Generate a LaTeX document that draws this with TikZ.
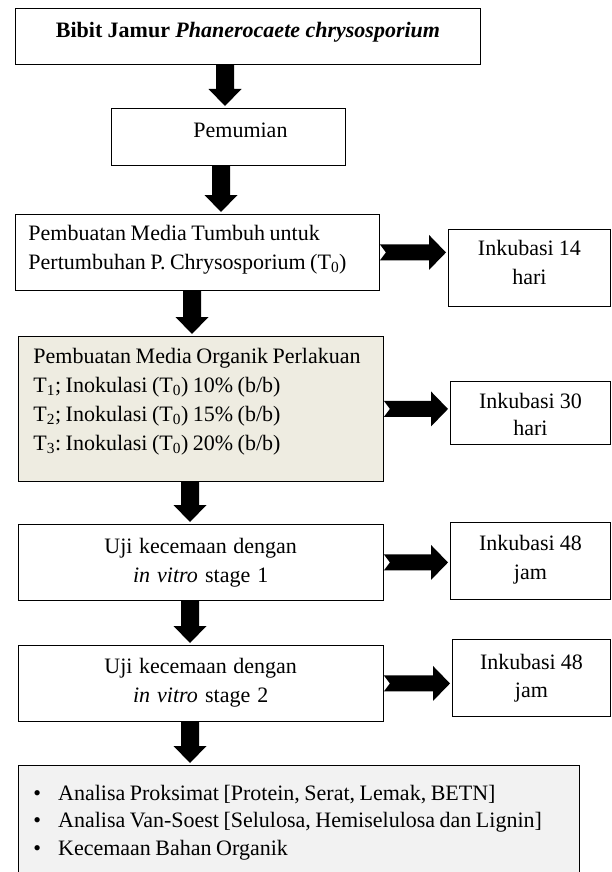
\documentclass[tikz,border=0pt]{standalone}
\usepackage{fontspec}
\setmainfont{Liberation Serif}
\frenchspacing
\usetikzlibrary{calc}
\definecolor{treatFill}{RGB}{238,236,225}
\definecolor{resultFill}{RGB}{242,242,242}
\newcommand\colorFrame{black}
\newcommand\colorArrow{black}
\newcommand\shaftHalf{9pt}
\newcommand\headHalf{16.5pt}
\newcommand\headLen{17pt}
\newcommand\barHalf{8pt}
\newcommand\tipHalf{17.5pt}
\newcommand\tipLen{17pt}
\newcommand\notchDepth{6pt}
\newcommand\downArrow[3]{
	\fill[color=\colorArrow] let \p1=(#1,0 |- #2.south), \p2=(#1,0 |- #3.north) in
	(\x1-\shaftHalf,\y1) -- (\x1+\shaftHalf,\y1) --
	(\x1+\shaftHalf,\y2+2pt+\headLen) -- (\x1+\headHalf,\y2+2pt+\headLen) --
	(\x1,\y2+2pt) --
	(\x1-\headHalf,\y2+2pt+\headLen) -- (\x1-\shaftHalf,\y2+2pt+\headLen) -- cycle;
}
\newcommand\sideArrow[2]{
	\fill[color=\colorArrow] let \p1=(#1.east), \p2=(#1.east -| #2.west) in
	(\x1,\y1+\barHalf) -- (\x2-2pt-\tipLen,\y1+\barHalf) --
	(\x2-2pt-\tipLen,\y1+\tipHalf) -- (\x2-2pt,\y1) -- (\x2-2pt-\tipLen,\y1-\tipHalf) --
	(\x2-2pt-\tipLen,\y1-\barHalf) -- (\x1,\y1-\barHalf) -- (\x1+\notchDepth,\y1) -- cycle;
}

\begin{document}
\begin{tikzpicture}[x=1pt, y=-1pt,
	box/.style={draw=\colorFrame, line width=0.9pt, inner ysep=0pt, anchor=north west,
		font=\fontsize{22pt}{29pt}\selectfont,
		execute at begin node={\spaceskip=4.5pt plus 1pt minus 1pt\hyphenpenalty=10000\relax}},
	midbox/.style={box, inner xsep=0pt, align=center},
	leftbox/.style={box, align=left}]
	\useasboundingbox (0,0) rectangle (611,872);

	% main column
	\node[midbox, text width=465pt, text height=29pt, text depth=27pt] (seed) at (15,8)
		{\textbf{Bibit Jamur \textit{Phanerocaete chrysosporium}}};
	\node[midbox, text width=234pt, text height=29pt, text depth=28pt] (purify) at (111,108)
		{\hspace*{24pt}Pemumian};
	\node[leftbox, inner xsep=13pt, text width=338pt, text height=26pt, text depth=50pt] (grow) at (15,214)
		{Pembuatan Media Tumbuh untuk\\Pertumbuhan P. Chrysosporium (T\textsubscript{0})};
	\node[leftbox, fill=treatFill, inner xsep=15.5pt, text width=334.5pt, text height=27pt, text depth=118pt] (treat) at (17.5,336)
		{Pembuatan Media Organik Perlakuan\\
		T\textsubscript{1}; Inokulasi (T\textsubscript{0}) 10\% (b/b)\\
		T\textsubscript{2}; Inokulasi (T\textsubscript{0}) 15\% (b/b)\\
		T\textsubscript{3}: Inokulasi (T\textsubscript{0}) 20\% (b/b)};
	\node[midbox, text width=365.5pt, text height=29pt, text depth=47pt] (stage1) at (17.5,524)
		{Uji kecemaan dengan\\\textit{in vitro} stage 1};
	\node[midbox, text width=365.5pt, text height=28pt, text depth=48pt] (stage2) at (17.5,645)
		{Uji kecemaan dengan\\\textit{in vitro} stage 2};
	\node[leftbox, fill=resultFill, inner xsep=15.5pt, text width=530pt, text height=35pt, text depth=75pt,
		font=\fontsize{22pt}{27.5pt}\selectfont] (analysis) at (17.5,765)
		{\textbullet\hspace{17pt}Analisa Proksimat [Protein, Serat, Lemak, BETN]\\
		\textbullet\hspace{17pt}Analisa Van-Soest [Selulosa, Hemiselulosa dan Lignin]\\
		\textbullet\hspace{17pt}Kecemaan Bahan Organik};

	% incubation boxes
	\node[midbox, text width=162pt, text height=26pt, text depth=51pt] (incA) at (448,229) {Inkubasi 14\\hari};
	\node[midbox, text width=160pt, text height=27pt, text depth=36pt,
		font=\fontsize{22pt}{27pt}\selectfont] (incB) at (450,381) {Inkubasi 30\\hari};
	\node[midbox, text width=160pt, text height=28pt, text depth=49pt] (incC) at (450,522) {Inkubasi 48\\jam};
	\node[midbox, text width=158pt, text height=30pt, text depth=47pt,
		font=\fontsize{22pt}{28pt}\selectfont] (incD) at (452,639) {Inkubasi 48\\jam};

	\foreach \xpos/\from/\to in {225/seed/purify, 221/purify/grow, 192/grow/treat,
		190/treat/stage1, 190/stage1/stage2, 190/stage2/analysis}{
		\downArrow{\xpos}{\from}{\to}
	}
	\foreach \from/\to in {grow/incA, treat/incB, stage1/incC, stage2/incD}{
		\sideArrow{\from}{\to}
	}
\end{tikzpicture}
\end{document}
